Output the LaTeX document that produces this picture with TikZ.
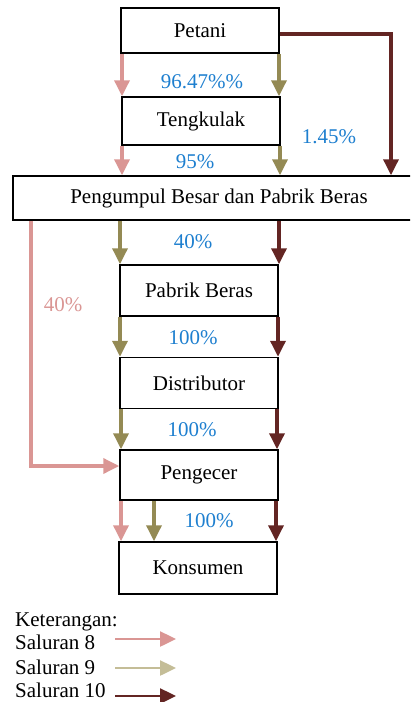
\documentclass[tikz,border=0pt]{standalone}
\usepackage{fontspec}
\setmainfont{Liberation Serif}
\usetikzlibrary{arrows.meta}
\definecolor{salpink}{HTML}{DA9694}
\definecolor{salolive}{HTML}{948A54}
\definecolor{saloliveL}{HTML}{C4BD97}
\definecolor{saldark}{HTML}{632523}
\definecolor{pctblue}{HTML}{1E7FCF}

\begin{document}
\begin{tikzpicture}[x=1pt,y=-1pt]
      \tikzstyle{every node}=[font=\rmfamily\fontsize{21}{25}\selectfont,inner sep=0pt]
      \tikzstyle{box}=[draw,line width=1.5pt,minimum width=158pt]
      \tikzstyle{pct}=[text=pctblue]
      \tikzstyle{s8}=[salpink,line width=3.5pt,-{Triangle[width=15pt,length=16pt]}]
      \tikzstyle{s9}=[salolive,line width=3.5pt,-{Triangle[width=15pt,length=16pt]}]
      \tikzstyle{s10}=[saldark,line width=3.5pt,-{Triangle[width=15pt,length=16pt]}]
      \tikzstyle{leg}=[line width=2.5pt,-{Triangle[width=15pt,length=16pt]}]
      \clip (0,0) rectangle (410,702);

      \node[box,minimum height=45pt] (petani)      at (200,30.5)  {Petani};
      \node[box,minimum height=48pt] (tengkulak)   at (201,121)   {Tengkulak};
      \node[box,minimum width=412pt,minimum height=44pt] (pengumpul) at (219,198) {Pengumpul Besar dan Pabrik Beras};
      \node[box,minimum height=51pt] (pabrik)      at (199,290.5) {Pabrik Beras};
      \node[box,minimum height=51pt] (distributor) at (199,383)   {Distributor};
      \node[box,minimum height=50pt] (pengecer)    at (199,475)   {Pengecer};
      \node[box,minimum height=52pt] (konsumen)    at (198,568)   {Konsumen};

      % saluran 8
      \draw[s8] (122,0 |- petani.south)    -- (122,0 |- tengkulak.north);
      \draw[s8] (122,0 |- tengkulak.south) -- (122,0 |- pengumpul.north);
      \draw[s8] (31,0 |- pengumpul.south)  -- (31,466) -- (pengecer.west |- 0,466);
      \draw[s8] (121,0 |- pengecer.south)  -- (121,0 |- konsumen.north);

      % saluran 9
      \draw[s9] (279,0 |- petani.south)      -- (279,0 |- tengkulak.north);
      \draw[s9] (280,0 |- tengkulak.south)   -- (280,0 |- pengumpul.north);
      \draw[s9] (120,0 |- pengumpul.south)   -- (120,0 |- pabrik.north);
      \draw[s9] (120,0 |- pabrik.south)      -- (120,0 |- distributor.north);
      \draw[s9] (121,0 |- distributor.south) -- (121,0 |- pengecer.north);
      \draw[s9] (154,0 |- pengecer.south)    -- (154,0 |- konsumen.north);

      % saluran 10
      \draw[s10] (petani.east |- 0,34)         -| (391,0 |- pengumpul.north);
      \draw[s10] (279,0 |- pengumpul.south)   -- (279,0 |- pabrik.north);
      \draw[s10] (278,0 |- pabrik.south)      -- (278,0 |- distributor.north);
      \draw[s10] (277,0 |- distributor.south) -- (277,0 |- pengecer.north);
      \draw[s10] (276,0 |- pengecer.south)    -- (276,0 |- konsumen.north);

      \node[pct] (pc1) at (202,82)  {96.47\%\%};
      \node[pct] (pc2) at (329,137) {1.45\%};
      \node[pct] (pc3) at (195,162) {95\%};
      \node[pct] (pc4) at (193,242) {40\%};
      \node[text=salpink] (pc5) at (63,305) {40\%};
      \node[pct] (pc6) at (193,338) {100\%};
      \node[pct] (pc7) at (192,430) {100\%};
      \node[pct] (pc8) at (209,521) {100\%};

      % keterangan
      \node[anchor=base west] (ket)  at (15,626) {Keterangan:};
      \node[anchor=base west] (lg8)  at (15,649) {Saluran 8};
      \node[anchor=base west] (lg9)  at (15,674) {Saluran 9};
      \node[anchor=base west] (lg10) at (15,697) {Saluran 10};
      \coordinate (a8s)  at (115,639); \coordinate (a8e)  at (176,639);
      \coordinate (a9s)  at (115,668); \coordinate (a9e)  at (176,668);
      \coordinate (a10s) at (115,696); \coordinate (a10e) at (176,696);
      \draw[leg,salpink]   (a8s)  -- (a8e);
      \draw[leg,saloliveL] (a9s)  -- (a9e);
      \draw[leg,saldark]   (a10s) -- (a10e);
    \end{tikzpicture}
\end{document}
